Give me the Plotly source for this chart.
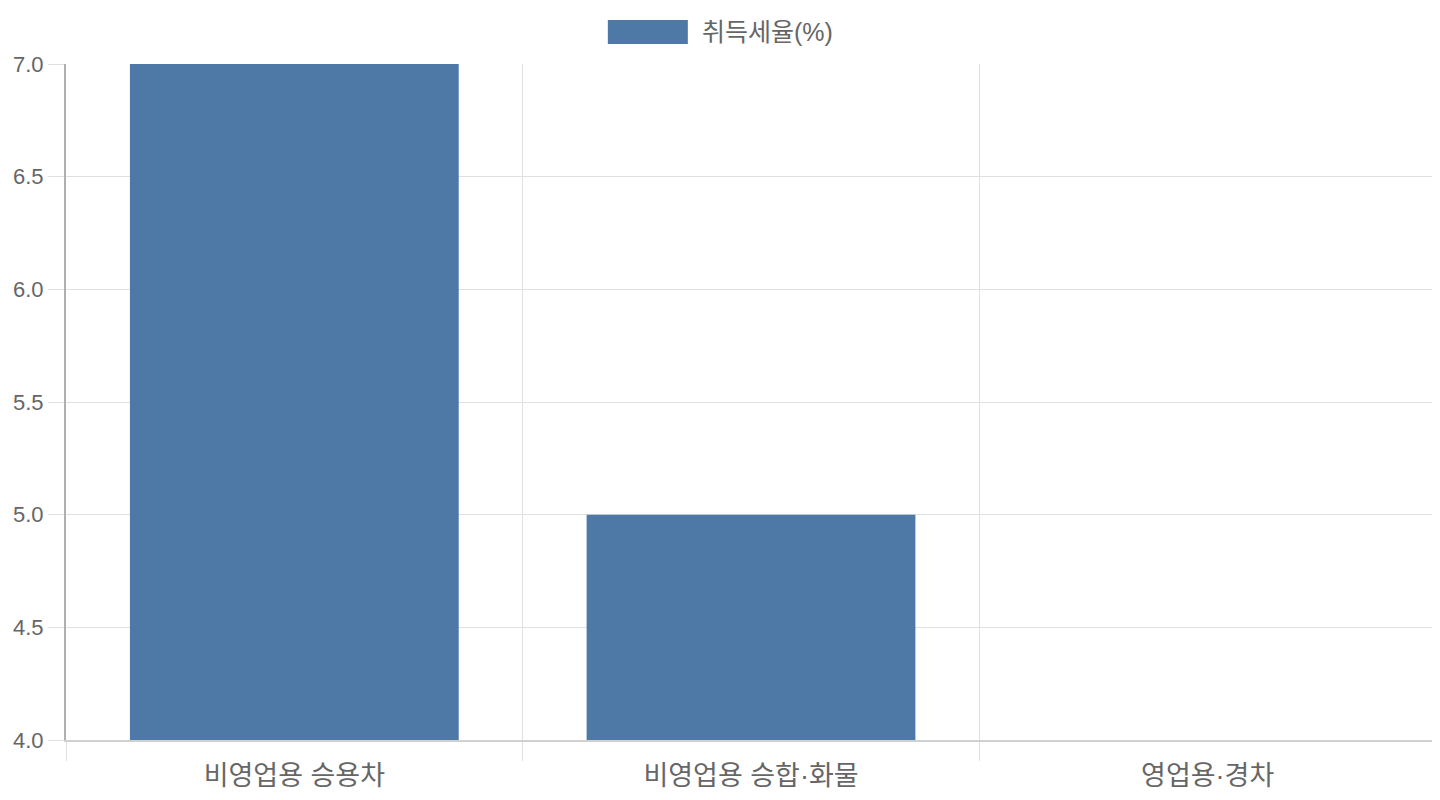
import plotly.graph_objects as go

# 차량 구분별 취득세율
categories = ["비영업용 승용차", "비영업용 승합·화물", "영업용·경차"]
tax_rate = [7, 5, 4]
series_name = "취득세율(%)"

bar_color = "#4e79a7"
font_family = "Liberation Sans, Arial, Noto Sans CJK KR, sans-serif"
text_color = "#666666"

x_pos = list(range(len(categories)))
edges = [i - 0.5 for i in range(len(categories) + 1)]

fig = go.Figure()
fig.add_trace(go.Bar(x=x_pos, y=tax_rate, name=series_name, width=0.72,
                     marker=dict(color=bar_color, line=dict(width=0)),
                     showlegend=False))

# invisible trace so the label axis gets drawn
fig.add_trace(go.Scatter(x=x_pos, y=tax_rate, xaxis="x2", mode="markers",
                         marker=dict(opacity=0), showlegend=False, hoverinfo="skip"))

# page body has 8px margin, so the figure is a bit smaller than the window
fig.update_layout(
    width=1432, height=792,
    margin=dict(l=58, r=4, t=56, b=60),
    paper_bgcolor="white", plot_bgcolor="white",
    font=dict(family=font_family, size=22, color=text_color),
    xaxis=dict(range=[edges[0], edges[-1]], tickvals=edges, showticklabels=False,
               ticks="outside", ticklen=19, tickcolor="#e0e0e0", automargin=False,
               showgrid=True, gridcolor="#e0e0e0", gridwidth=1,
               showline=True, linecolor="#d0d0d0", linewidth=2, zeroline=False),
    xaxis2=dict(overlaying="x", matches="x", side="bottom", tickvals=x_pos,
                ticktext=categories, showgrid=False, zeroline=False, automargin=False,
                ticks="outside", ticklen=12, tickcolor="rgba(0,0,0,0)",
                tickfont=dict(size=27, color=text_color)),
    yaxis=dict(range=[4, 7], dtick=0.5, tickformat=".1f", automargin=False,
               ticks="outside", ticklen=16, tickcolor="#e0e0e0",
               showgrid=True, gridcolor="#e0e0e0", gridwidth=1,
               showline=True, linecolor="#b0b0b0", linewidth=2, zeroline=False,
               tickfont=dict(size=22, color=text_color)),
)

# legend box drawn by hand (chart.js style wide swatch)
fig.add_shape(type="rect", xref="paper", yref="paper",
              x0=0.3955, x1=0.4539, y0=1.0296, y1=1.0651,
              fillcolor=bar_color, line=dict(width=0))
fig.add_annotation(xref="paper", yref="paper", x=0.4625, y=1.0473,
                   text=series_name, showarrow=False, xanchor="left", yanchor="middle",
                   font=dict(size=25, color=text_color))

fig.write_html("out.html")
